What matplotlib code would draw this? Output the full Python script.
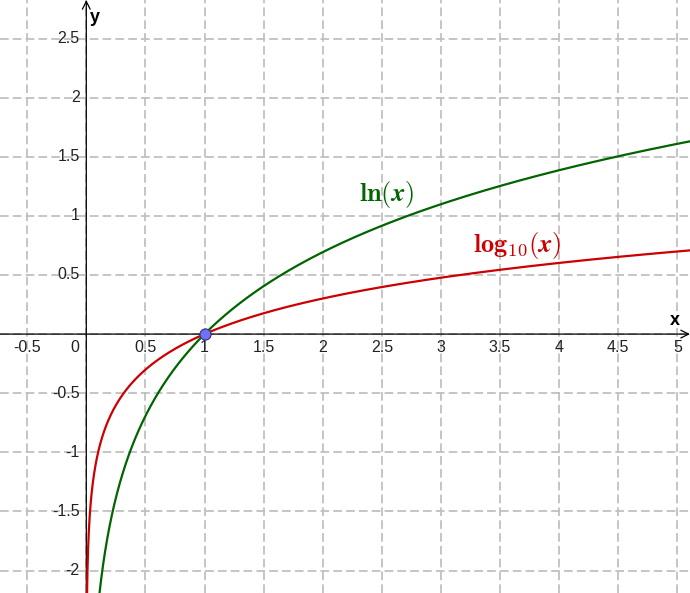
import numpy as np
import matplotlib
matplotlib.use('Agg')
from matplotlib import pyplot as plt

plt.rcParams['mathtext.fontset'] = 'cm'

# view window and grid
x_range = (-0.73, 5.107)
y_range = (-2.19, 2.826)
x_ticks = [-0.5, 0.5, 1, 1.5, 2, 2.5, 3, 3.5, 4, 4.5, 5]
y_ticks = [-2, -1.5, -1, -0.5, 0.5, 1, 1.5, 2, 2.5]
x_grid = [-0.5, 0, 0.5, 1, 1.5, 2, 2.5, 3, 3.5, 4, 4.5, 5]
y_grid = [-2, -1.5, -1, -0.5, 0, 0.5, 1, 1.5, 2, 2.5]

# plotted functions and the common point
x_samples = np.geomspace(1e-4, 5.3, 3000)
ln_vals = np.log(x_samples)
log10_vals = np.log10(x_samples)
point = (1, 0)

green = '#006400'
red = '#cc0000'

fig = plt.figure(figsize=(6.9, 5.93), dpi=100)
ax = fig.add_axes([0, 0, 1, 1])
ax.set_xlim(*x_range)
ax.set_ylim(*y_range)
for s in ax.spines.values():
    s.set_visible(False)
ax.set_xticks([])
ax.set_yticks([])

# dashed grid
for gx in x_grid:
    ax.axvline(gx, color='#c0c0c0', lw=1.3, dashes=(4.8, 2.3), zorder=0)
for gy in y_grid:
    ax.axhline(gy, color='#c0c0c0', lw=1.3, dashes=(4.8, 2.3), zorder=0)

# axes with arrows
ax.annotate('', xy=(x_range[1], 0), xytext=(x_range[0], 0),
            arrowprops=dict(arrowstyle='->', lw=0.9, color='black', mutation_scale=14,
                            shrinkA=0, shrinkB=0), zorder=2)
ax.annotate('', xy=(0, y_range[1]), xytext=(0, y_range[0]),
            arrowprops=dict(arrowstyle='->', lw=0.9, color='black', mutation_scale=14,
                            shrinkA=0, shrinkB=0), zorder=2)

tick_font = dict(family='Liberation Sans', fontsize=11.5, color='#222222')
for t in x_ticks:
    ax.text(t, -0.05, f'{t:g}', ha='center', va='top', **tick_font)
ax.text(-0.1, -0.05, '0', ha='center', va='top', **tick_font)
for t in y_ticks:
    ax.text(-0.055, t, f'{t:g}', ha='right', va='center', **tick_font)

ax.text(4.98, 0.045, 'x', ha='center', va='bottom', family='Liberation Sans',
        fontsize=13, fontweight='bold')
ax.text(0.03, 2.68, 'y', ha='left', va='center', family='Liberation Sans',
        fontsize=13, fontweight='bold')

# curves
ax.plot(x_samples, log10_vals, color=red, lw=1.6, zorder=3)
ax.plot(x_samples, ln_vals, color=green, lw=1.6, zorder=3)
ax.plot(*point, 'o', ms=8, mfc='#7070ff', mec='#333366', mew=0.8, zorder=4)

ax.text(2.54, 1.18, r'$\mathbf{ln(}\mathbfit{x}\mathbf{)}$', color=green, fontsize=19,
        ha='center', va='center')
ax.text(3.64, 0.75, r'$\mathbf{log}_{\mathbf{10}}\mathbf{(}\mathbfit{x}\mathbf{)}$',
        color=red, fontsize=19, ha='center', va='center')

fig.savefig('out.png', dpi=100)
